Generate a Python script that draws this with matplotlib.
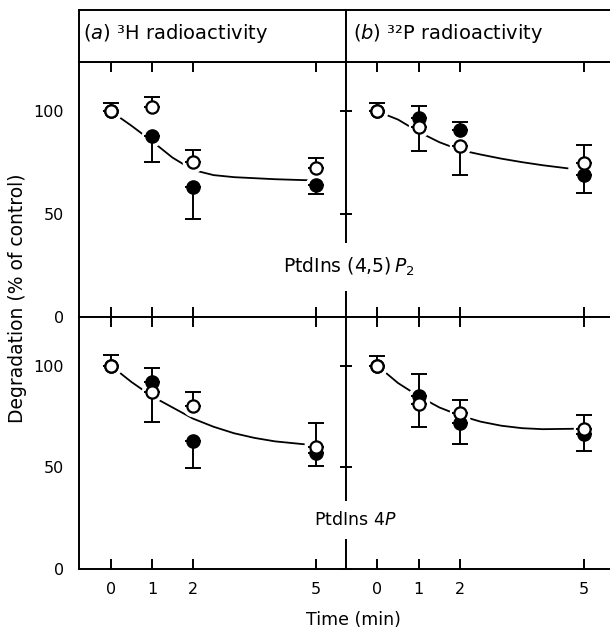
import matplotlib.pyplot as plt

plt.rcParams['font.family'] = ['DejaVu Sans']
plt.rcParams['mathtext.fontset'] = 'dejavusans'

times = [0, 1, 2, 5]
time_labels = ['0', '1', '2', '5']
y_ticks = [0, 50, 100]

# (a) 3H, PtdIns(4,5)P2  -- errors are (down, up)
a_p2_filled = [100, 88, 63, 64]
a_p2_filled_err = ([0, 12.5, 15.5, 4], [0, 0, 0, 0])
a_p2_open = [100, 102, 75.5, 72.5]
a_p2_open_err = ([0, 0, 0, 0], [4, 5, 5.5, 5])
a_p2_curve_t = [0, 0.5, 1, 1.5, 2, 2.5, 3, 4, 4.8]
a_p2_curve_y = [100, 93, 85.5, 77.5, 71.5, 69, 68, 67, 66.5]

# (b) 32P, PtdIns(4,5)P2
b_p2_filled = [100, 97, 91, 69]
b_p2_filled_err = ([0, 0, 0, 8.5], [0, 5.5, 3.7, 0])
b_p2_open = [100, 92.5, 83, 75]
b_p2_open_err = ([0, 12, 14, 0], [4, 0, 0, 8.5])
b_p2_curve_t = [0, 0.5, 1, 1.5, 2, 2.5, 3, 3.5, 4, 4.6]
b_p2_curve_y = [100, 96, 90, 85, 81.2, 79, 77, 75.3, 73.8, 72.3]

# (a) 3H, PtdIns 4P
a_p_filled = [100, 92, 63, 57]
a_p_filled_err = ([0, 0, 13.5, 6.5], [0, 7, 0, 0])
a_p_open = [100, 87, 80, 60]
a_p_open_err = ([0, 14.5, 0, 0], [5.5, 0, 7, 12])
a_p_curve_t = [0, 0.5, 1, 1.5, 2, 2.5, 3, 3.5, 4, 4.7]
a_p_curve_y = [100, 92, 85, 79.5, 74, 70, 66.8, 64.5, 62.8, 61.4]

# (b) 32P, PtdIns 4P
b_p_filled = [100, 85, 72, 66.5]
b_p_filled_err = ([0, 0, 10.5, 8.5], [0, 11, 0, 0])
b_p_open = [100, 81, 77, 69]
b_p_open_err = ([0, 11, 0, 0], [5, 0, 6, 7])
b_p_curve_t = [0, 0.5, 1, 1.5, 2, 2.5, 3, 3.5, 4, 4.75]
b_p_curve_y = [100, 91.5, 85, 79.5, 75.5, 72.5, 70.5, 69.3, 68.8, 69]

W, H = 610, 633
LW = 1.4


def fx(px):
    return px / W


def fy(py):
    return 1 - py / H


def draw_panel(ax, filled, filled_err, opened, opened_err, curve_t, curve_y):
    ax.plot(curve_t, curve_y, color='k', lw=1.3, zorder=1)
    ax.plot(times, filled, 'o', ms=14.5, color='white', zorder=2)
    ax.plot(times, opened, 'o', ms=14.5, color='white', zorder=2)
    ax.errorbar(times, filled, yerr=filled_err, fmt='none', ecolor='k',
                elinewidth=LW, capsize=5.5, capthick=LW, zorder=3)
    ax.errorbar(times, opened, yerr=opened_err, fmt='none', ecolor='k',
                elinewidth=LW, capsize=5.5, capthick=LW, zorder=3)
    ax.plot(times, filled, 'o', ms=9.5, mfc='k', mec='k', zorder=4)
    ax.plot(times, opened, 'o', ms=8.8, mfc='white', mec='k', mew=1.6, zorder=5)


def setup_axes(ax, left_col, bottom_row):
    ax.set_ylim(0, 124)
    ax.set_yticks(y_ticks)
    ax.set_xticks(times)
    ax.set_xticklabels(time_labels)
    for s in ax.spines.values():
        s.set_linewidth(LW)
    ax.tick_params(axis='x', direction='in', top=True, bottom=True, length=7,
                   width=LW, labelbottom=bottom_row, pad=9, labelsize=11.5)
    if left_col:
        ax.set_xlim(-0.78, 5.73)
        ax.tick_params(axis='y', direction='in', left=False, right=True, length=4,
                       width=LW, labelleft=True, pad=11, labelsize=11.5)
    else:
        ax.set_xlim(-0.76, 5.63)
        ax.spines['right'].set_visible(False)
        ax.tick_params(axis='y', direction='in', left=True, right=False, length=4,
                       width=LW, labelleft=False)


fig = plt.figure(figsize=(W / 100, H / 100), dpi=100)

x_left, x_mid, x_right = 79, 346, 610
y_head, y_top, y_mid, y_bot = 10, 62, 317, 569

ax_tl = fig.add_axes([fx(x_left), fy(y_mid), fx(x_mid - x_left), (y_mid - y_top) / H])
ax_tr = fig.add_axes([fx(x_mid), fy(y_mid), fx(x_right - x_mid), (y_mid - y_top) / H])
ax_bl = fig.add_axes([fx(x_left), fy(y_bot), fx(x_mid - x_left), (y_bot - y_mid) / H])
ax_br = fig.add_axes([fx(x_mid), fy(y_bot), fx(x_right - x_mid), (y_bot - y_mid) / H])

draw_panel(ax_tl, a_p2_filled, a_p2_filled_err, a_p2_open, a_p2_open_err, a_p2_curve_t, a_p2_curve_y)
draw_panel(ax_tr, b_p2_filled, b_p2_filled_err, b_p2_open, b_p2_open_err, b_p2_curve_t, b_p2_curve_y)
draw_panel(ax_bl, a_p_filled, a_p_filled_err, a_p_open, a_p_open_err, a_p_curve_t, a_p_curve_y)
draw_panel(ax_br, b_p_filled, b_p_filled_err, b_p_open, b_p_open_err, b_p_curve_t, b_p_curve_y)

setup_axes(ax_tl, True, False)
setup_axes(ax_tr, False, False)
setup_axes(ax_bl, True, True)
setup_axes(ax_br, False, True)

# header boxes
head_l = fig.add_axes([fx(x_left), fy(y_top), fx(x_mid - x_left), (y_top - y_head) / H])
head_r = fig.add_axes([fx(x_mid), fy(y_top), fx(x_right - x_mid), (y_top - y_head) / H])
for hax in (head_l, head_r):
    hax.set_xticks([])
    hax.set_yticks([])
    for s in hax.spines.values():
        s.set_linewidth(LW)
head_r.spines['right'].set_visible(False)
head_l.text(0.015, 0.55, r'($\mathit{a}$) ³H radioactivity', transform=head_l.transAxes,
            ha='left', va='center', fontsize=14)
head_r.text(0.027, 0.55, r'($\mathit{b}$) ³²P radioactivity', transform=head_r.transAxes,
            ha='left', va='center', fontsize=14)

# lipid labels, white box breaks the middle divider
fig.text(fx(283), fy(267), r'PtdIns (4,5)$\,\mathit{P}_2$', ha='left', va='center', fontsize=13.5,
         bbox=dict(boxstyle='square,pad=0.7', fc='white', ec='none'), zorder=10)
fig.text(fx(355), fy(520), r'PtdIns 4$\mathit{P}$', ha='center', va='center', fontsize=12.5,
         bbox=dict(boxstyle='square,pad=0.6', fc='white', ec='none'), zorder=10)

fig.text(fx(18), fy(298), 'Degradation (% of control)', rotation=90, ha='center', va='center', fontsize=13.5)
fig.text(fx(353), fy(620), 'Time (min)', ha='center', va='center', fontsize=12.5)

fig.savefig('out.png', dpi=100)
